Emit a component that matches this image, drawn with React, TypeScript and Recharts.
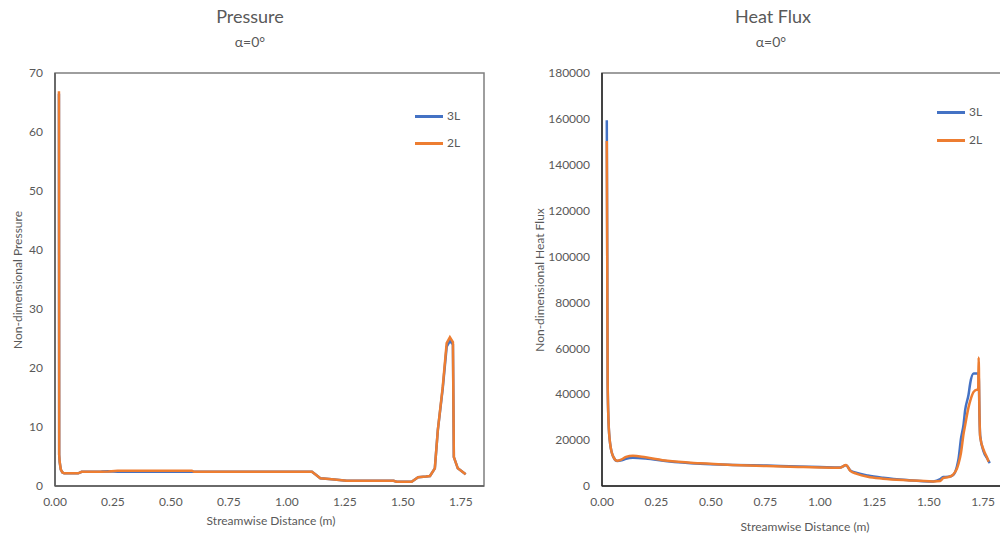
import React from 'react';
import { LineChart, Line, XAxis, YAxis, ReferenceArea } from 'recharts';

// Pressure chart data
const pressureX = [0.017, 0.018, 0.020, 0.025, 0.032, 0.040, 0.060, 0.100, 0.115, 0.200, 0.230, 0.270, 0.400, 0.590, 0.600, 0.800, 1.000, 1.108, 1.125, 1.144, 1.194, 1.258, 1.350, 1.460, 1.473, 1.538, 1.566, 1.600, 1.617, 1.638, 1.651, 1.672, 1.689, 1.703, 1.716, 1.720, 1.737, 1.771];
const pressure2L = [66.9, 5.3, 4.1, 2.8, 2.3, 2.15, 2.15, 2.15, 2.4, 2.4, 2.45, 2.6, 2.6, 2.6, 2.4, 2.4, 2.4, 2.4, 1.9, 1.3, 1.13, 0.9, 0.9, 0.9, 0.73, 0.73, 1.47, 1.6, 1.69, 3.0, 9.5, 16.8, 24.2, 25.2, 24.4, 4.9, 3.0, 2.0];
const pressure3L = [66.5, 5.3, 4.1, 2.8, 2.3, 2.15, 2.15, 2.15, 2.4, 2.45, 2.5, 2.4, 2.4, 2.4, 2.4, 2.4, 2.4, 2.4, 1.9, 1.3, 1.13, 0.9, 0.9, 0.9, 0.73, 0.73, 1.47, 1.6, 1.69, 3.0, 9.5, 16.5, 23.6, 24.6, 24.0, 4.9, 3.0, 2.0];

// Heat flux chart data
const heatX = [0.022, 0.024, 0.026, 0.030, 0.037, 0.052, 0.070, 0.090, 0.110, 0.142, 0.200, 0.300, 0.450, 0.600, 0.756, 0.900, 1.000, 1.093, 1.120, 1.140, 1.170, 1.220, 1.290, 1.400, 1.520, 1.553, 1.566, 1.590, 1.612, 1.629, 1.637, 1.648, 1.660, 1.667, 1.683, 1.690, 1.706, 1.720, 1.727, 1.729, 1.733, 1.736, 1.752, 1.767, 1.775, 1.780];
const heat3L = [159400, 100000, 45000, 28000, 18700, 12700, 10900, 11200, 11900, 12300, 12000, 10800, 9700, 9200, 8900, 8500, 8300, 8100, 9000, 6800, 5700, 4600, 3600, 2600, 2000, 3000, 3900, 4000, 4800, 8400, 12000, 20700, 27000, 33000, 40000, 44600, 49000, 49000, 49000, 49000, 30000, 22000, 15000, 12200, 10800, 10000];
const heat2L = [150400, 100000, 45000, 28000, 18700, 12700, 11000, 11600, 12700, 13200, 12500, 11000, 9900, 9200, 8700, 8300, 8100, 8000, 9100, 6600, 5300, 4000, 3200, 2500, 2000, 2200, 3400, 3900, 5000, 7500, 9800, 14500, 22900, 26500, 34500, 37000, 41000, 42000, 42000, 56000, 30000, 21400, 15700, 12500, 10600, null];

const xTicks = [0, 0.25, 0.5, 0.75, 1.0, 1.25, 1.5, 1.75];
const pressureTicks = [0, 10, 20, 30, 40, 50, 60, 70];
const heatTicks = [0, 20000, 40000, 60000, 80000, 100000, 120000, 140000, 160000, 180000];

const pressureData = pressureX.map((x, i) => ({ x, l3: pressure3L[i], l2: pressure2L[i] }));
const heatData = heatX.map((x, i) => ({ x, l3: heat3L[i], l2: heat2L[i] }));

const BLUE = '#4472C4';
const ORANGE = '#ED7D31';
const TXT = '#595959';
const FONT = 'Lato, "Open Sans", sans-serif';

const tickStyle = { fontSize: 12, fill: TXT, fontFamily: FONT };

const abs = (s: React.CSSProperties): React.CSSProperties => ({ position: 'absolute', ...s });

function Legend({ left, top3, top2 }: { left: number; top3: number; top2: number }) {
  const items = [
    { name: '3L', color: BLUE, top: top3 },
    { name: '2L', color: ORANGE, top: top2 },
  ];
  return (
    <>
      {items.map((it) => (
        <React.Fragment key={it.name}>
          <div style={abs({ left, top: it.top - 1, width: 28, height: 2.5, background: it.color })} />
          <div style={abs({ left: left + 32, top: it.top - 8, fontSize: 12, color: TXT, lineHeight: '16px' })}>{it.name}</div>
        </React.Fragment>
      ))}
    </>
  );
}

export default function App() {
  return (
    <div style={abs({ left: 0, top: 0, width: 1000, height: 537, overflow: 'hidden', background: '#fff', fontFamily: FONT })}>
      {/* Left chart */}
      <div style={abs({ left: 0, top: 0 })}>
        <LineChart width={500} height={537} data={pressureData} margin={{ top: 73, right: 16, bottom: 26, left: 20 }}>
          <ReferenceArea x1={0} x2={1.85} y1={0} y2={70} fill="none" stroke="#7f7f7f" strokeWidth={1.5} ifOverflow="visible" />
          <XAxis dataKey="x" type="number" domain={[0, 1.85]} ticks={xTicks} tickFormatter={(v: number) => v.toFixed(2)} tick={tickStyle} tickLine={false} axisLine={{ stroke: '#595959', strokeWidth: 1.5 }} height={25} tickMargin={5} interval={0} />
          <YAxis type="number" domain={[0, 70]} ticks={pressureTicks} tick={tickStyle} tickLine={false} axisLine={{ stroke: '#595959', strokeWidth: 1.5 }} width={35} tickMargin={6} interval={0} />
          <Line dataKey="l3" type="linear" stroke={BLUE} strokeWidth={2.5} dot={false} isAnimationActive={false} />
          <Line dataKey="l2" type="linear" stroke={ORANGE} strokeWidth={2.5} dot={false} isAnimationActive={false} />
        </LineChart>
      </div>
      <div style={abs({ left: 150, width: 200, top: 4, textAlign: 'center', fontSize: 18, color: TXT, lineHeight: '24px' })}>Pressure</div>
      <div style={abs({ left: 150, width: 200, top: 33, textAlign: 'center', fontSize: 14, color: TXT, lineHeight: '18px' })}>α=0°</div>
      <div style={abs({ left: 171, width: 200, top: 513, textAlign: 'center', fontSize: 12, color: TXT, lineHeight: '16px' })}>Streamwise Distance (m)</div>
      <div style={abs({ left: 18 - 100, width: 200, top: 280 - 8, textAlign: 'center', fontSize: 12, color: TXT, lineHeight: '16px', transform: 'rotate(-90deg)' })}>Non-dimensional Pressure</div>
      <Legend left={415} top3={116} top2={143} />

      {/* Right chart */}
      <div style={abs({ left: 500, top: 0 })}>
        <LineChart width={510} height={537} data={heatData} margin={{ top: 73, right: 5, bottom: 26, left: 52 }}>
          <ReferenceArea x1={0} x2={1.85} y1={0} y2={180000} fill="none" stroke="#7f7f7f" strokeWidth={1.5} ifOverflow="visible" />
          <XAxis dataKey="x" type="number" domain={[0, 1.85]} ticks={xTicks} tickFormatter={(v: number) => v.toFixed(2)} tick={tickStyle} tickLine={false} axisLine={{ stroke: '#262626', strokeWidth: 1.5 }} height={25} tickMargin={5} interval={0} />
          <YAxis type="number" domain={[0, 180000]} ticks={heatTicks} tick={tickStyle} tickLine={false} axisLine={{ stroke: '#262626', strokeWidth: 1.5 }} width={50} tickMargin={6} interval={0} />
          <Line dataKey="l3" type="monotone" stroke={BLUE} strokeWidth={2.5} dot={false} isAnimationActive={false} />
          <Line dataKey="l2" type="monotone" stroke={ORANGE} strokeWidth={2.5} dot={false} isAnimationActive={false} connectNulls={false} />
        </LineChart>
      </div>
      <div style={abs({ left: 673, width: 200, top: 4, textAlign: 'center', fontSize: 18, color: TXT, lineHeight: '24px' })}>Heat Flux</div>
      <div style={abs({ left: 671, width: 200, top: 33, textAlign: 'center', fontSize: 14, color: TXT, lineHeight: '18px' })}>α=0°</div>
      <div style={abs({ left: 705, width: 200, top: 519, textAlign: 'center', fontSize: 12, color: TXT, lineHeight: '16px' })}>Streamwise Distance (m)</div>
      <div style={abs({ left: 540 - 100, width: 200, top: 280 - 8, textAlign: 'center', fontSize: 12, color: TXT, lineHeight: '16px', transform: 'rotate(-90deg)' })}>Non-dimensional Heat Flux</div>
      <Legend left={937} top3={112} top2={140} />
    </div>
  );
}
